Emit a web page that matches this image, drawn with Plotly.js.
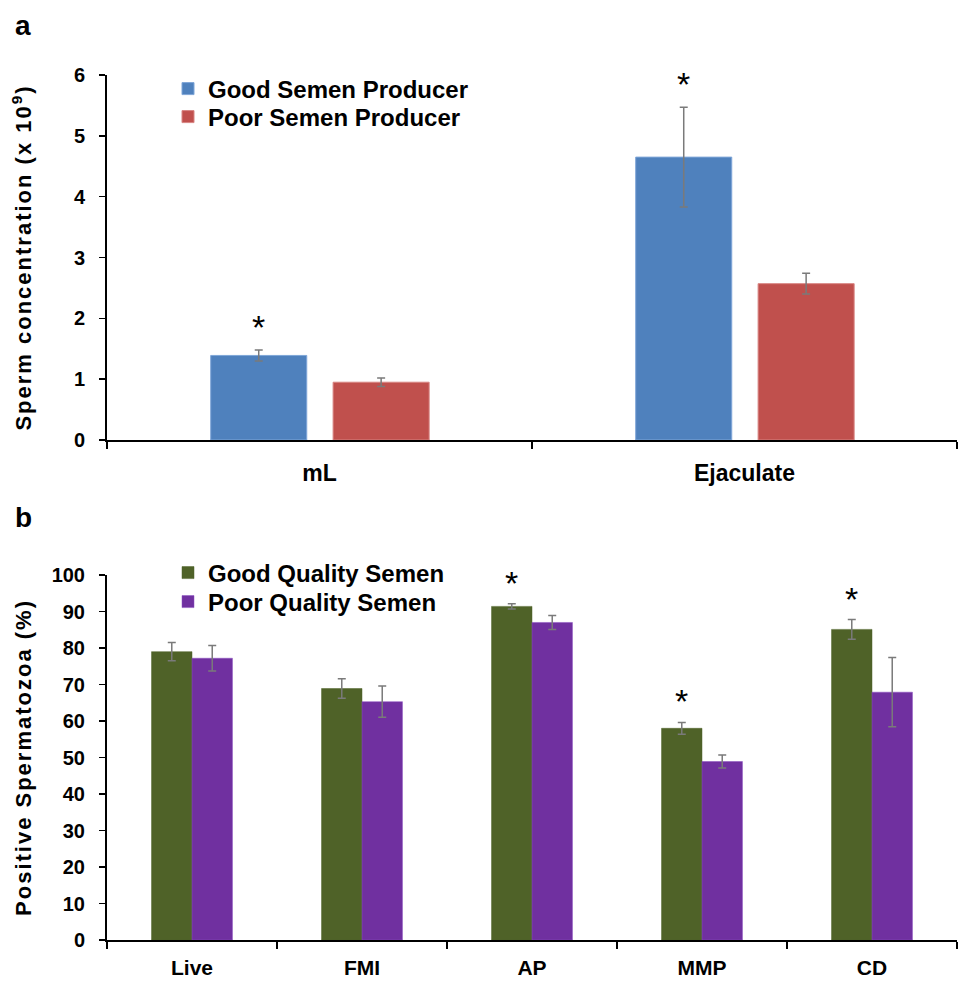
<!DOCTYPE html>
<html>
<head>
<meta charset="utf-8">
<script src="https://cdn.plot.ly/plotly-3.0.1.min.js"></script>
<style>
html,body{margin:0;padding:0;background:#fff;}
.g-ytitle text, .g-y2title text {letter-spacing: 2px;}
</style>
</head>
<body>
<div id="chart" style="width:966px;height:981px;"></div>
<script>
// ---- Panel a data ----
const catsA = ['mL', 'Ejaculate'];
const goodProducer = [1.39, 4.65];
const goodProducerErr = [0.09, 0.82];
const poorProducer = [0.95, 2.57];
const poorProducerErr = [0.07, 0.17];
const sigA = [true, true];          // asterisk over good producer bar

// ---- Panel b data ----
const catsB = ['Live', 'FMI', 'AP', 'MMP', 'CD'];
const goodQuality = [79.0, 68.9, 91.4, 58.0, 85.1];
const goodQualityErr = [2.5, 2.7, 0.7, 1.6, 2.7];
const poorQuality = [77.2, 65.3, 87.0, 48.9, 67.9];
const poorQualityErr = [3.5, 4.3, 1.9, 1.8, 9.5];
const sigB = [false, false, true, true, true]; // asterisk over good quality bar

const FONT = 'Arial, "Liberation Sans", sans-serif';
const NARROW = '"Liberation Sans Narrow", "Arial Narrow", Arial, "Liberation Sans", sans-serif';
const errStyle = {type: 'data', visible: true, color: '#7a7a7a', thickness: 1.5, width: 4};

// bar geometry (category units)
const wA = 0.226, offGoodA = -0.256, offPoorA = 0.032;
const wB = 0.238, offGoodB = -0.238, offPoorB = 0.0;

const traces = [
  {type: 'bar', name: 'Good Semen Producer', x: catsA, y: goodProducer,
   width: wA, offset: offGoodA, marker: {color: '#4F81BD', line: {color: '#7fa6d8', width: 1}},
   error_y: Object.assign({array: goodProducerErr}, errStyle), xaxis: 'x', yaxis: 'y', legend: 'legend'},
  {type: 'bar', name: 'Poor Semen Producer', x: catsA, y: poorProducer,
   width: wA, offset: offPoorA, marker: {color: '#C0504D', line: {color: '#d88583', width: 1}},
   error_y: Object.assign({array: poorProducerErr}, errStyle), xaxis: 'x', yaxis: 'y', legend: 'legend2'},
  {type: 'bar', name: 'Good Quality Semen', x: catsB, y: goodQuality,
   width: wB, offset: offGoodB, marker: {color: '#4F6228', line: {color: '#4F6228', width: 0.5}},
   error_y: Object.assign({array: goodQualityErr}, errStyle), xaxis: 'x2', yaxis: 'y2', legend: 'legend3'},
  {type: 'bar', name: 'Poor Quality Semen', x: catsB, y: poorQuality,
   width: wB, offset: offPoorB, marker: {color: '#7030A0', line: {color: '#8a4fc0', width: 0.5}},
   error_y: Object.assign({array: poorQualityErr}, errStyle), xaxis: 'x2', yaxis: 'y2', legend: 'legend4'}
];

const annotations = [];
sigA.forEach((s, i) => {
  if (!s) return;
  annotations.push({xref: 'x', yref: 'y', x: i + offGoodA + wA / 2, y: goodProducer[i] + goodProducerErr[i],
    text: '*', showarrow: false, yanchor: 'bottom', yshift: 2, font: {family: FONT, size: 34, color: '#000'}});
});
sigB.forEach((s, i) => {
  if (!s) return;
  annotations.push({xref: 'x2', yref: 'y2', x: i + offGoodB + wB / 2, y: goodQuality[i] + goodQualityErr[i],
    text: '*', showarrow: false, yanchor: 'bottom', yshift: 0, font: {family: FONT, size: 34, color: '#000'}});
});
annotations.push({xref: 'paper', yref: 'paper', x: 13 / 966, y: 1 - 8 / 981, xanchor: 'left', yanchor: 'top',
  text: '<b>a</b>', showarrow: false, font: {family: FONT, size: 28, color: '#000'}});
annotations.push({xref: 'paper', yref: 'paper', x: 13 / 966, y: 1 - 500 / 981, xanchor: 'left', yanchor: 'top',
  text: '<b>b</b>', showarrow: false, font: {family: FONT, size: 28, color: '#000'}});

const xBase = {type: 'category', showgrid: false, zeroline: false, showline: true, linecolor: '#000', linewidth: 2,
  ticks: 'outside', tickson: 'boundaries', ticklen: 7, tickwidth: 1.5, tickcolor: '#000', fixedrange: true,
  domain: [107 / 966, 957 / 966]};
const yBase = {showgrid: false, zeroline: false, showline: true, linecolor: '#000', linewidth: 2,
  ticks: 'outside', ticklen: 6, tickwidth: 1.5, tickcolor: '#000', ticklabelstandoff: 10,
  tickfont: {family: FONT, size: 20, color: '#000', weight: 'bold'}};

const legFont = {family: FONT, size: 24, color: '#000', weight: 'bold'};
function leg(yc) {
  return {x: 168 / 966, y: 1 - yc / 981, xanchor: 'left', yanchor: 'middle', bgcolor: 'rgba(0,0,0,0)',
    font: legFont, traceorder: 'normal'};
}

const layout = {
  width: 966, height: 981,
  margin: {l: 0, r: 0, t: 0, b: 0},
  paper_bgcolor: '#fff', plot_bgcolor: '#fff',
  barmode: 'group',
  showlegend: true,
  font: {family: FONT, color: '#000'},
  xaxis: Object.assign({}, xBase, {anchor: 'y', range: [-0.5, 1.5], ticklabelstandoff: 11,
    tickfont: {family: FONT, size: 23, color: '#000', weight: 'bold'}}),
  yaxis: Object.assign({}, yBase, {anchor: 'x', domain: [1 - 440 / 981, 1 - 75 / 981], range: [0, 6], dtick: 1,
    title: {text: 'Sperm concentration (x 10<sup>9</sup>)', standoff: 36,
      font: {family: FONT, size: 22, color: '#000', weight: 'bold'}}}),
  xaxis2: Object.assign({}, xBase, {anchor: 'y2', range: [-0.5, 4.5], ticklabelstandoff: 8,
    tickfont: {family: NARROW, size: 21, color: '#000', weight: 'bold'}}),
  yaxis2: Object.assign({}, yBase, {anchor: 'x2', domain: [1 - 940 / 981, 1 - 575 / 981], range: [0, 100], dtick: 10,
    title: {text: 'Positive Spermatozoa (%)', standoff: 14,
      font: {family: FONT, size: 22, color: '#000', weight: 'bold'}}}),
  legend: leg(89),
  legend2: leg(117),
  legend3: leg(573),
  legend4: leg(602),
  annotations: annotations
};

Plotly.newPlot('chart', traces, layout, {displayModeBar: false, staticPlot: true});
</script>
</body>
</html>
